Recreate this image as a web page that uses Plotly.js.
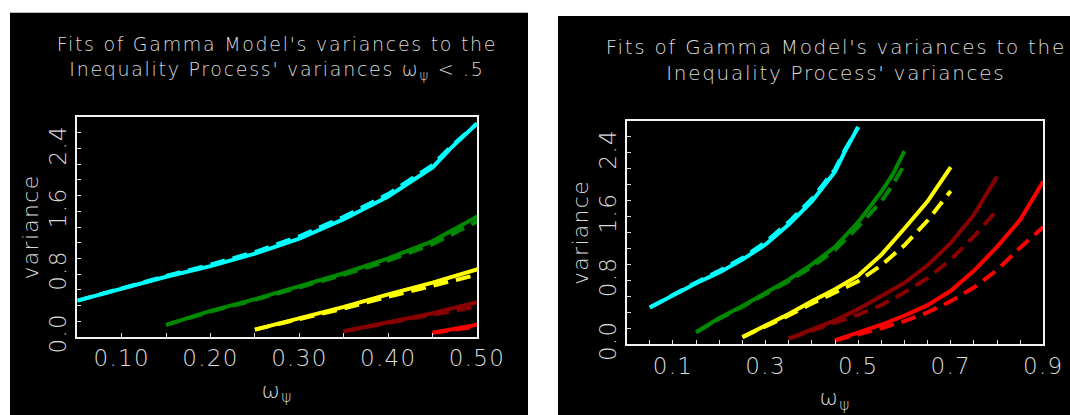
<!DOCTYPE html>
<html>
<head>
<meta charset="utf-8">
<script src="https://cdn.plot.ly/plotly-3.0.1.min.js"></script>
<style>
html, body { margin: 0; padding: 0; background: #ffffff; }
#chart { width: 1070px; height: 415px; }
.main-svg text { letter-spacing: 1.3px; }
.main-svg .annotation-text { letter-spacing: 1.7px; }
</style>
</head>
<body>
<div id="chart"></div>
<script>
// ---- data (omega_psi vs variance): solid = Inequality Process, dashed = Gamma Model fit ----
const omegaCyan   = [0.05, 0.10, 0.15, 0.20, 0.25, 0.30, 0.35, 0.40, 0.43, 0.45, 0.47, 0.50];
const ipCyan      = [0.46, 0.61, 0.765, 0.90, 1.06, 1.25, 1.50, 1.79, 2.02, 2.16, 2.40, 2.72];
const gammaCyan   = [0.46, 0.62, 0.775, 0.92, 1.08, 1.28, 1.53, 1.82, 2.05, 2.19, 2.42, 2.72];

const omegaGreen  = [0.15, 0.20, 0.25, 0.30, 0.35, 0.40, 0.45, 0.50, 0.55, 0.575, 0.60];
const ipGreen     = [0.15, 0.33, 0.48, 0.65, 0.81, 1.00, 1.22, 1.53, 1.91, 2.13, 2.42];
const gammaGreen  = [0.15, 0.32, 0.47, 0.63, 0.79, 0.97, 1.18, 1.47, 1.79, 2.00, 2.25];

const omegaYellow = [0.25, 0.30, 0.35, 0.40, 0.45, 0.50, 0.55, 0.60, 0.65, 0.70];
const ipYellow    = [0.09, 0.235, 0.38, 0.54, 0.69, 0.86, 1.12, 1.45, 1.79, 2.22];
const gammaYellow = [0.09, 0.225, 0.36, 0.51, 0.65, 0.79, 0.99, 1.24, 1.55, 1.92];

const omegaMaroon = [0.35, 0.40, 0.45, 0.50, 0.55, 0.60, 0.65, 0.70, 0.75, 0.80];
const ipMaroon    = [0.07, 0.18, 0.30, 0.44, 0.61, 0.77, 0.99, 1.27, 1.62, 2.10];
const gammaMaroon = [0.07, 0.17, 0.27, 0.37, 0.49, 0.65, 0.83, 1.06, 1.35, 1.68];

const omegaRed    = [0.45, 0.50, 0.55, 0.60, 0.65, 0.70, 0.75, 0.80, 0.85, 0.90];
const ipRed       = [0.05, 0.145, 0.245, 0.36, 0.49, 0.67, 0.92, 1.22, 1.56, 2.04];
const gammaRed    = [0.05, 0.12, 0.20, 0.29, 0.40, 0.54, 0.71, 0.93, 1.21, 1.47];

const seriesColors = ['#00ffff', '#008800', '#ffff00', '#880000', '#ff0000'];

const leftXTicks  = [0.10, 0.20, 0.30, 0.40, 0.50];
const leftXLabels = ['0.10', '0.20', '0.30', '0.40', '0.50'];
const rightXTicks  = [0.1, 0.3, 0.5, 0.7, 0.9];
const rightXLabels = ['0.1', '0.3', '0.5', '0.7', '0.9'];
const yTicks  = [0.0, 0.8, 1.6, 2.4];
const yLabels = ['0.0', '0.8', '1.6', '2.4'];

const leftTitle  = "Fits of Gamma Model's variances to the<br>Inequality Process' variances ω<sub>ψ</sub> &lt; .5";
const rightTitle = "Fits of Gamma Model's variances to the<br>Inequality Process' variances";
const xTitle = 'ω<sub>ψ</sub>';
const yTitle = 'variance';

// ---- build traces ----
const groups = [
  [omegaCyan, ipCyan, gammaCyan],
  [omegaGreen, ipGreen, gammaGreen],
  [omegaYellow, ipYellow, gammaYellow],
  [omegaMaroon, ipMaroon, gammaMaroon],
  [omegaRed, ipRed, gammaRed]
];
const traces = [];
[['x', 'y'], ['x2', 'y2']].forEach(([xa, ya]) => {
  groups.forEach((g, i) => {
    traces.push({x: g[0], y: g[1], xaxis: xa, yaxis: ya, type: 'scatter', mode: 'lines',
      line: {color: seriesColors[i], width: 4}, hoverinfo: 'skip'});
    traces.push({x: g[0], y: g[2], xaxis: xa, yaxis: ya, type: 'scatter', mode: 'lines',
      line: {color: seriesColors[i], width: 4, dash: '15px,8px'}, hoverinfo: 'skip'});
  });
});

const W = 1070, H = 415;
const px = v => v / W;
const py = v => (H - v) / H;

const textColor = '#dadada';
const fontFam = "'DejaVu Sans ExtraLight', 'DejaVu Sans', sans-serif";

function xAxis(dom, range, tv, tt, yref) {
  return {
    domain: dom, range: range, anchor: yref, automargin: false,
    tickmode: 'array', tickvals: tv, ticktext: tt,
    ticks: 'inside', ticklen: 4, tickwidth: 1, tickcolor: '#dddddd',
    minor: {dtick: 0.05, tick0: 0, ticks: 'inside', ticklen: 4, tickwidth: 1, tickcolor: '#dddddd', showgrid: false},
    showline: true, mirror: true, linecolor: '#f2f2f2', linewidth: 2,
    showgrid: false, zeroline: false,
    tickfont: {family: fontFam, size: 23, color: textColor, weight: 200},
    title: {text: xTitle, font: {family: fontFam, size: 22, color: textColor, weight: 200}, standoff: 12}
  };
}
function yAxis(dom, xref) {
  return {
    domain: dom, range: [0, 2.8], anchor: xref, automargin: false,
    tickmode: 'array', tickvals: yTicks, ticktext: yLabels, tickangle: -90,
    ticks: 'inside', ticklen: 4, tickwidth: 1, tickcolor: '#dddddd',
    minor: {dtick: 0.2, tick0: 0, ticks: 'inside', ticklen: 4, tickwidth: 1, tickcolor: '#dddddd', showgrid: false},
    showline: true, mirror: true, linecolor: '#f2f2f2', linewidth: 2,
    showgrid: false, zeroline: false,
    tickfont: {family: fontFam, size: 23, color: textColor, weight: 200},
    title: {text: yTitle, font: {family: fontFam, size: 22, color: textColor, weight: 200}, standoff: 0}
  };
}

const layout = {
  width: W, height: H,
  margin: {l: 0, r: 0, t: 0, b: 0},
  paper_bgcolor: '#ffffff', plot_bgcolor: '#000000',
  showlegend: false,
  xaxis:  xAxis([px(77.3), px(477)], [0.05, 0.5], leftXTicks, leftXLabels, 'y'),
  yaxis:  yAxis([py(336.7), py(117.3)], 'x'),
  xaxis2: xAxis([px(626.7), px(1043.3)], [0, 0.9], rightXTicks, rightXLabels, 'y2'),
  yaxis2: yAxis([py(344.3), py(120.7)], 'x2'),
  shapes: [
    {type: 'rect', xref: 'paper', yref: 'paper', x0: px(10), x1: px(528), y0: 0, y1: py(12.7),
     fillcolor: '#000000', line: {width: 0}, layer: 'below'},
    {type: 'rect', xref: 'paper', yref: 'paper', x0: px(558), x1: 1, y0: 0, y1: py(16),
     fillcolor: '#000000', line: {width: 0}, layer: 'below'}
  ],
  annotations: [
    {text: leftTitle, xref: 'paper', yref: 'paper', x: px(277), y: py(58), xanchor: 'center', yanchor: 'middle',
     showarrow: false, align: 'center', font: {family: fontFam, size: 19, color: textColor, weight: 200}},
    {text: rightTitle, xref: 'paper', yref: 'paper', x: px(836), y: py(60), xanchor: 'center', yanchor: 'middle',
     showarrow: false, align: 'center', font: {family: fontFam, size: 20, color: textColor, weight: 200}}
  ]
};

Plotly.newPlot('chart', traces, layout, {displayModeBar: false, staticPlot: true});
</script>
</body>
</html>
